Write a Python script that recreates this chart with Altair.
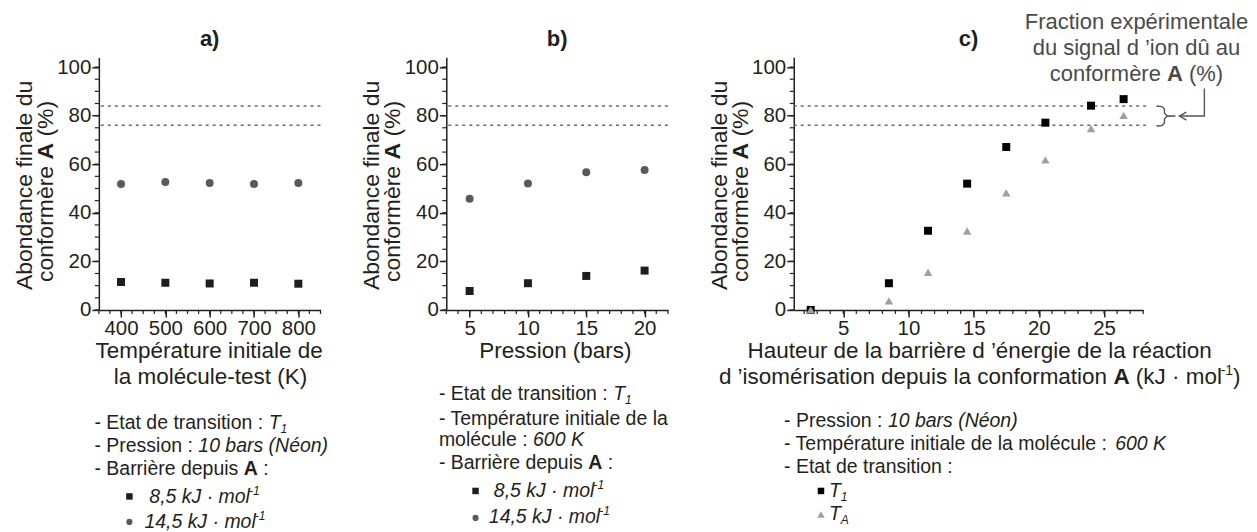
import altair as alt
import pandas as pd
import numpy as np

# ---------------- data ----------------
temp_K = [400, 500, 600, 700, 800]
temp_8_5 = [11.5, 11.2, 10.9, 11.2, 10.8]
temp_14_5 = [51.9, 52.7, 52.3, 51.9, 52.3]

press_bar = [5, 10, 15, 20]
press_8_5 = [7.8, 11.0, 14.0, 16.2]
press_14_5 = [45.8, 52.1, 56.7, 57.6]

barrier_kJ = [2.5, 8.5, 11.5, 14.5, 17.5, 20.5, 24.0, 26.5]
barrier_T1 = [0.0, 11.0, 32.6, 52.0, 67.1, 77.1, 84.1, 86.8]
barrier_TA = [0.0, 3.7, 15.5, 32.5, 48.2, 61.8, 74.7, 80.1]

exp_fraction_bounds = [76, 84]

y_ticks = [0, 20, 40, 60, 80, 100]
a_ticks = [400, 500, 600, 700, 800]
b_ticks = [5, 10, 15, 20]
c_ticks = [5, 10, 15, 20, 25]

# ---------------- styling / layout ----------------
FONT = "Liberation Sans"
INK = "#231f20"
GREY_TXT = "#4a4a4a"
SQ_COL = "#1e1e1e"
CI_COL = "#5a5a5a"
TRI_COL = "#a0a0a0"
DOT_COL = "#6a6a6a"
ARROW_COL = "#555555"
TICK_FS = 20.5

W_A, W_B, W_C, H, GAP = 222, 222, 350, 253, 126
OY = 56.7
OX = {"a": 97.7, "b": 97.7 + W_A + GAP, "c": 97.7 + W_A + GAP + W_B + GAP}
Y_DOM = [0, 104]

# Arial / Liberation Sans advance widths (1/1000 em)
W_REG = {ch: 556 for ch in "0123456789"}
W_REG.update({' ': 278, '!': 278, "'": 191, '’': 222, '(': 333, ')': 333, '%': 889,
              ',': 278, '-': 333, '.': 278, ':': 278, '·': 278,
              'A': 667, 'B': 667, 'E': 667, 'F': 611, 'H': 722, 'J': 500, 'K': 667,
              'N': 722, 'P': 667, 'T': 611,
              'a': 556, 'b': 556, 'c': 500, 'd': 556, 'e': 556, 'f': 278, 'g': 556,
              'h': 556, 'i': 222, 'j': 222, 'k': 500, 'l': 222, 'm': 833, 'n': 556,
              'o': 556, 'p': 556, 'q': 556, 'r': 333, 's': 500, 't': 278, 'u': 556,
              'v': 500, 'w': 722, 'x': 500, 'y': 500, 'z': 500,
              'é': 556, 'è': 556, 'û': 556})
W_BOLD = dict(W_REG)
W_BOLD.update({'A': 722, 'b': 611, 'c': 556})
SMALL = 0.62


def run_width(t, size, bold):
    tab = W_BOLD if bold else W_REG
    return sum(tab.get(ch, 556) for ch in t) * size / 1000.0


def add_line(rows, panel, runs, x, y, size, color=INK, anchor="start", angle=0):
    ox = OX[panel]
    parts = []
    for t, k in runs:
        s = size * SMALL if k in ("sub", "sup", "rsup") else size
        parts.append((t, k, s, run_width(t, s, k == "b")))
    total = sum(p[3] for p in parts)
    cur = {"start": 0.0, "middle": -total / 2.0, "end": -total}[anchor]
    for t, k, s, w in parts:
        stripped = t.lstrip(" ")
        lead = run_width(t[: len(t) - len(stripped)], s, k == "b")
        if k == "sub":
            shift = size * 0.2
        elif k in ("sup", "rsup"):
            shift = -size * 0.42
        else:
            shift = 0.0
        if angle == 0:
            px, py = x + cur + lead, y + shift
        else:
            px, py = x + shift, y - (cur + lead)
        rows.append(dict(px=px - ox, py=py - OY, t=stripped.rstrip(" "), fs=s, ang=angle,
                         col=color, fw="bold" if k == "b" else "normal",
                         fst="italic" if k in ("i", "sub", "sup") else "normal"))
        cur += w


def text_layers(rows):
    df = pd.DataFrame(rows)
    layers = []
    for (fw, fst), sub in df.groupby(["fw", "fst"]):
        layers.append(
            alt.Chart(sub.reset_index(drop=True))
            .mark_text(align="left", baseline="alphabetic", font=FONT,
                       fontWeight=fw, fontStyle=fst)
            .encode(x=alt.X("px:Q", scale=None), y=alt.Y("py:Q", scale=None),
                    text=alt.Text("t:N"), size=alt.Size("fs:Q", scale=None),
                    angle=alt.Angle("ang:Q", scale=None),
                    color=alt.Color("col:N", scale=None))
        )
    return layers


def marker_layer(rows, panel):
    df = pd.DataFrame(rows)
    df["px"] = df["px"] - OX[panel]
    df["py"] = df["py"] - OY
    return (alt.Chart(df).mark_point(filled=True, opacity=1, strokeWidth=0)
            .encode(x=alt.X("px:Q", scale=None), y=alt.Y("py:Q", scale=None),
                    shape=alt.Shape("sh:N", scale=None), size=alt.Size("sz:Q", scale=None),
                    color=alt.Color("col:N", scale=None)))


def axis_x(values):
    return alt.Axis(values=values, title=None, grid=False, domainColor=INK, domainWidth=1.5,
                    tickColor=INK, tickWidth=1.5, tickSize=7, labelFont=FONT,
                    labelFontSize=TICK_FS, labelColor=INK, labelPadding=2,
                    labelFlush=False, labelOverlap=False)


def axis_y():
    return alt.Axis(values=y_ticks, title=None, grid=False, domainColor=INK, domainWidth=1.5,
                    tickColor=INK, tickWidth=1.5, tickSize=7, labelFont=FONT,
                    labelFontSize=TICK_FS, labelColor=INK, labelPadding=1,
                    labelFlush=False, labelOverlap=False)


def build_panel(panel, W, xdom, xticks, xminor, series, rows, markers, dotted_x2=None, extra=None):
    xs = alt.Scale(domain=xdom, nice=False, zero=False)
    ys = alt.Scale(domain=Y_DOM, nice=False, zero=False)
    ax = axis_x(xticks)
    ay = axis_y()
    layers = []
    dot_enc = dict(y=alt.Y("v:Q", scale=ys, axis=ay))
    if dotted_x2 is not None:
        dot_enc.update(x=alt.value(0), x2=alt.value(dotted_x2))
    layers.append(alt.Chart(pd.DataFrame({"v": exp_fraction_bounds}))
                  .mark_rule(strokeDash=[3, 4], strokeWidth=1.5, color=DOT_COL)
                  .encode(**dot_enc))
    y_minor = list(range(0, 101, 5))
    layers.append(alt.Chart(pd.DataFrame({"v": y_minor}))
                  .mark_rule(color=INK, strokeWidth=1.2)
                  .encode(y=alt.Y("v:Q", scale=ys, axis=ay), x=alt.value(0), x2=alt.value(-4)))
    layers.append(alt.Chart(pd.DataFrame({"v": xminor}))
                  .mark_rule(color=INK, strokeWidth=1.2)
                  .encode(x=alt.X("v:Q", scale=xs, axis=ax), y=alt.value(H), y2=alt.value(H + 4)))
    for xv, yv, shape, size, col in series:
        layers.append(
            alt.Chart(pd.DataFrame({"x": xv, "y": yv}))
            .mark_point(shape=shape, filled=True, size=size, color=col, opacity=1, strokeWidth=0)
            .encode(x=alt.X("x:Q", scale=xs, axis=ax), y=alt.Y("y:Q", scale=ys, axis=ay))
        )
    if extra:
        layers.extend(extra)
    layers.append(marker_layer(markers, panel))
    layers.extend(text_layers(rows))
    return alt.layer(*layers).properties(width=W, height=H)


def y_title(rows, panel):
    add_line(rows, panel, [("Abondance finale du", "r")], OX[panel] - 67, 185, 23,
             anchor="middle", angle=270)
    add_line(rows, panel, [("conformère ", "r"), ("A", "b"), (" (%)", "r")],
             OX[panel] - 46, 191, 23, anchor="middle", angle=270)


MOL_85 = [("8,5 kJ · mol", "i"), ("-1", "sup")]
MOL_145 = [("14,5 kJ · mol", "i"), ("-1", "sup")]
ETAT_T1 = [("- Etat de transition : ", "r"), ("T", "i"), ("1", "sub")]
PRESS = [("- Pression : ", "r"), ("10 bars (Néon)", "i")]
BARR = [("- Barrière depuis ", "r"), ("A", "b"), (" :", "r")]
ANN = 19.5
TT = 22.5

# ---------------- panel a ----------------
ra = []
add_line(ra, "a", [("a)", "b")], OX["a"] + W_A / 2, 45, 22, anchor="middle")
y_title(ra, "a")
add_line(ra, "a", [("Température initiale de", "r")], 209.5, 358, TT, anchor="middle")
add_line(ra, "a", [("la molécule-test (K)", "r")], 209.5, 384, TT, anchor="middle")
add_line(ra, "a", ETAT_T1, 93.3, 429, ANN)
add_line(ra, "a", PRESS, 93.3, 452, ANN)
add_line(ra, "a", BARR, 93.3, 475, ANN)
add_line(ra, "a", MOL_85, 148.3, 503, ANN)
add_line(ra, "a", MOL_145, 143.3, 528, ANN)
ma = [dict(px=128.3, py=496.5, sh="square", sz=42, col=SQ_COL),
      dict(px=128.3, py=522, sh="circle", sz=38, col=CI_COL)]
pa = build_panel("a", W_A, [350, 850], a_ticks, list(range(350, 851, 25)),
                 [(temp_K, temp_14_5, "circle", 64, CI_COL),
                  (temp_K, temp_8_5, "square", 64, SQ_COL)], ra, ma)

# ---------------- panel b ----------------
rb = []
add_line(rb, "b", [("b)", "b")], OX["b"] + W_B / 2, 45, 22, anchor="middle")
y_title(rb, "b")
add_line(rb, "b", [("Pression (bars)", "r")], 555, 358, TT, anchor="middle")
add_line(rb, "b", ETAT_T1, 438.3, 400, ANN)
add_line(rb, "b", [("- Température initiale de la", "r")], 438.3, 425, ANN)
add_line(rb, "b", [("molécule : ", "r"), ("600 K", "i")], 438.3, 446, ANN)
add_line(rb, "b", BARR, 438.3, 469, ANN)
add_line(rb, "b", MOL_85, 493.3, 497, ANN)
add_line(rb, "b", MOL_145, 488.3, 523, ANN)
mb = [dict(px=475, py=491, sh="square", sz=42, col=SQ_COL),
      dict(px=475, py=518, sh="circle", sz=38, col=CI_COL)]
pb = build_panel("b", W_B, [3, 22], b_ticks, list(range(3, 23)),
                 [(press_bar, press_14_5, "circle", 64, CI_COL),
                  (press_bar, press_8_5, "square", 64, SQ_COL)], rb, mb)

# ---------------- panel c ----------------
rc = []
add_line(rc, "c", [("c)", "b")], OX["c"] + W_C / 2, 45, 22, anchor="middle")
y_title(rc, "c")
add_line(rc, "c", [("Hauteur de la barrière d ’énergie de la réaction", "r")], 980, 358, TT,
         anchor="middle")
add_line(rc, "c", [("d ’isomérisation depuis la conformation ", "r"), ("A", "b"),
                   (" (kJ · mol", "r"), ("-1", "rsup"), (")", "r")], 980, 384, TT,
         anchor="middle")
add_line(rc, "c", PRESS, 784, 427, ANN)
add_line(rc, "c", [("- Température initiale de la molécule : ", "r"), ("600 K", "i")], 784, 450, ANN)
add_line(rc, "c", [("- Etat de transition :", "r")], 784, 473, ANN)
add_line(rc, "c", [("T", "i"), ("1", "sub")], 829, 497, ANN)
add_line(rc, "c", [("T", "i"), ("A", "sub")], 829, 520, ANN)
add_line(rc, "c", [("Fraction expérimentale", "r")], 1137, 28, 22, color=GREY_TXT, anchor="middle")
add_line(rc, "c", [("du signal d ’ion dû au", "r")], 1137, 54, 22, color=GREY_TXT, anchor="middle")
add_line(rc, "c", [("conformère ", "r"), ("A", "b"), (" (%)", "r")], 1137, 80, 22,
         color=GREY_TXT, anchor="middle")
mc = [dict(px=821, py=491, sh="square", sz=42, col="#000000"),
      dict(px=821, py=514.5, sh="triangle-up", sz=56, col=TRI_COL)]

# brace + arrow (annotation strokes, page coordinates -> panel c)
brace_pts = [(1157, 105.5), (1162.5, 106), (1165, 108.5), (1165, 112.5), (1167.5, 115.2),
             (1176, 115.5), (1167.5, 115.8), (1165, 118.5), (1165, 122.5), (1162.5, 125),
             (1157, 125.5)]
arrow_paths = [[(1180, 115.5), (1205, 115.5), (1205, 88)],
               [(1187, 111.5), (1180, 115.5), (1187, 119.5)]]
line_rows = []
for i, (px, py) in enumerate(brace_pts):
    line_rows.append(dict(px=px - OX["c"], py=py - OY, seg="brace", i=i))
for s, path in enumerate(arrow_paths):
    for i, (px, py) in enumerate(path):
        line_rows.append(dict(px=px - OX["c"], py=py - OY, seg=f"arrow{s}", i=i))
strokes = (alt.Chart(pd.DataFrame(line_rows))
           .mark_line(color=ARROW_COL, strokeWidth=1.4, interpolate="linear")
           .encode(x=alt.X("px:Q", scale=None), y=alt.Y("py:Q", scale=None),
                   detail="seg:N", order="i:Q"))

pc = build_panel("c", W_C, [1.2, 28], c_ticks, list(range(2, 29)),
                 [(barrier_kJ, barrier_T1, "square", 64, "#000000"),
                  (barrier_kJ, barrier_TA, "triangle-up", 72, TRI_COL)], rc, mc,
                 dotted_x2=W_C + 7, extra=[strokes])

chart = (alt.hconcat(pa, pb, pc, spacing=GAP, bounds="flush")
         .configure_view(stroke=None)
         .properties(padding={"left": 5, "top": 2, "right": 0, "bottom": 0},
                     background="white"))

chart.save("out.html", embed_options={"renderer": "svg", "actions": False})
